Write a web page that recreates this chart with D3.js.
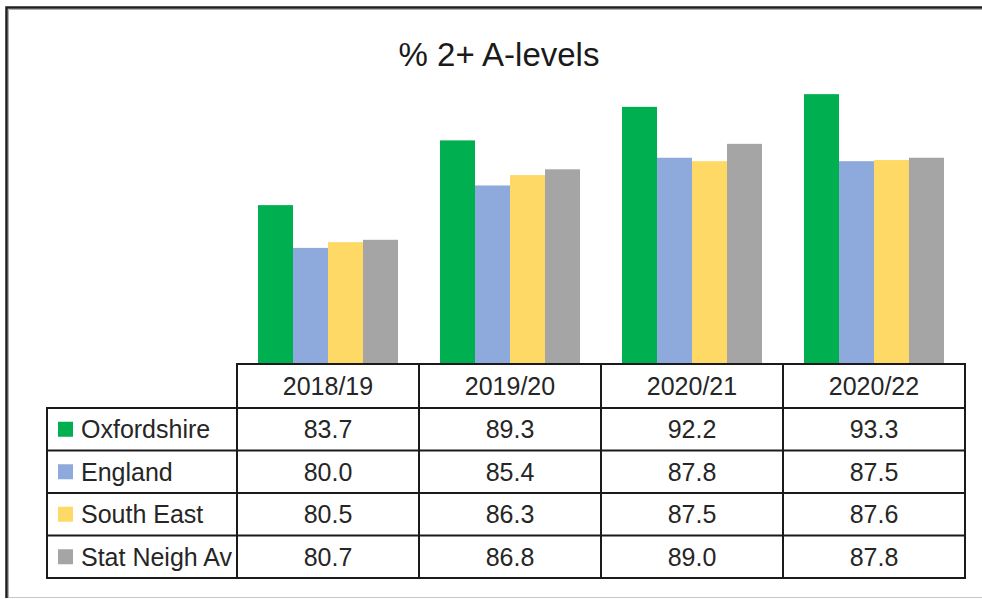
<!DOCTYPE html>
<html>
<head>
<meta charset="utf-8">
<script src="https://cdn.jsdelivr.net/npm/d3@7"></script>
<style>
  html, body { margin: 0; padding: 0; background: #fff; }
  svg { display: block; }
  text { font-family: "Liberation Sans", Arial, sans-serif; fill: #262626; }
</style>
</head>
<body>
<svg id="chart" width="982" height="599"></svg>
<script>
const categories = ["2018/19", "2019/20", "2020/21", "2020/22"];
const seriesNames = ["Oxfordshire", "England", "South East", "Stat Neigh Av"];
const oxfordshire = [83.7, 89.3, 92.2, 93.3];
const england = [80.0, 85.4, 87.8, 87.5];
const southEast = [80.5, 86.3, 87.5, 87.6];
const statNeighAv = [80.7, 86.8, 89.0, 87.8];
const seriesColors = ["#00B050", "#8EA9DB", "#FFD966", "#A5A5A5"];
const title = "% 2+ A-levels";

const seriesValues = [oxfordshire, england, southEast, statNeighAv];
const series = seriesNames.map((name, i) => ({ name, color: seriesColors[i], values: seriesValues[i] }));

const svg = d3.select("#chart");

// outer frame
svg.append("line").attr("x1", 6).attr("x2", 982).attr("y1", 597.5).attr("y2", 597.5)
  .attr("stroke", "#c8c8c8").attr("stroke-width", 1);
svg.append("path").attr("d", "M6.5,598 V7.5 H982").attr("fill", "none")
  .attr("stroke", "#1e1e1e").attr("stroke-width", 2.5);
svg.append("path").attr("d", "M8.5,598 V9.5 H982").attr("fill", "none")
  .attr("stroke", "#b0b0b0").attr("stroke-width", 1);

// title
svg.append("text").attr("x", 499).attr("y", 66).attr("text-anchor", "middle")
  .style("font-size", "33px").style("fill", "#1a1a1a").text(title);

// scales
const tableLeft = 47, colStart = 237, tableRight = 965;
const baseline = 363.5;
const x = d3.scaleBand().domain(categories).range([colStart, tableRight]).paddingInner(0).paddingOuter(0);
const xs = d3.scaleBand().domain(seriesNames).range([0, x.bandwidth()]).paddingInner(0).paddingOuter(0.6);
const y = d3.scaleLinear().domain([70, 95]).range([baseline, baseline - 25 * 11.56]);

// bars
const groups = svg.append("g").selectAll("g").data(categories).join("g")
  .attr("transform", d => `translate(${x(d)},0)`);
groups.selectAll("rect")
  .data((c, ci) => series.map(s => ({ name: s.name, color: s.color, value: s.values[ci] })))
  .join("rect")
  .attr("x", d => xs(d.name))
  .attr("width", xs.bandwidth())
  .attr("y", d => y(d.value))
  .attr("height", d => baseline - y(d.value))
  .attr("fill", d => d.color);

// data table
const headerTop = 364, headerH = 44, rowH = 42.5;
const rowsTop = headerTop + headerH;
const tableBottom = rowsTop + rowH * series.length;
const table = svg.append("g");
const lineCol = "#1a1a1a", lw = 2;
const fs = 25;

// header box
table.append("rect").attr("x", colStart).attr("y", headerTop)
  .attr("width", tableRight - colStart).attr("height", headerH)
  .attr("fill", "none").attr("stroke", lineCol).attr("stroke-width", lw);
// body box
table.append("rect").attr("x", tableLeft).attr("y", rowsTop)
  .attr("width", tableRight - tableLeft).attr("height", tableBottom - rowsTop)
  .attr("fill", "none").attr("stroke", lineCol).attr("stroke-width", lw);
// horizontal row separators
table.selectAll("line.h").data(series.slice(1)).join("line").attr("class", "h")
  .attr("x1", tableLeft).attr("x2", tableRight)
  .attr("y1", (d, i) => rowsTop + rowH * (i + 1)).attr("y2", (d, i) => rowsTop + rowH * (i + 1))
  .attr("stroke", lineCol).attr("stroke-width", lw);
// vertical column separators
table.selectAll("line.v").data(categories).join("line").attr("class", "v")
  .attr("x1", d => x(d)).attr("x2", d => x(d))
  .attr("y1", headerTop)
  .attr("y2", tableBottom)
  .attr("stroke", lineCol).attr("stroke-width", lw);

// header labels
table.selectAll("text.cat").data(categories).join("text").attr("class", "cat")
  .attr("x", d => x(d) + x.bandwidth() / 2).attr("y", headerTop + headerH / 2 + 9)
  .attr("text-anchor", "middle").style("font-size", fs + "px").text(d => d);

// rows
const rows = table.selectAll("g.row").data(series).join("g").attr("class", "row")
  .attr("transform", (d, i) => `translate(0,${rowsTop + rowH * i})`);
rows.append("rect").attr("x", 58).attr("y", rowH / 2 - 7.5).attr("width", 15).attr("height", 15)
  .attr("fill", d => d.color);
rows.append("text").attr("x", 81).attr("y", rowH / 2 + 9)
  .style("font-size", fs + "px").text(d => d.name);
rows.selectAll("text.val").data(d => d.values.map((v, i) => ({ v, c: categories[i] })))
  .join("text").attr("class", "val")
  .attr("x", d => x(d.c) + x.bandwidth() / 2).attr("y", rowH / 2 + 9)
  .attr("text-anchor", "middle").style("font-size", fs + "px")
  .text(d => d3.format(".1f")(d.v));
</script>
</body>
</html>
